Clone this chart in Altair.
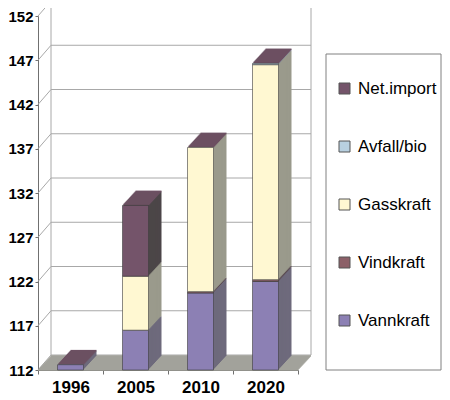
import altair as alt
import pandas as pd

years = ["1996", "2005", "2010", "2020"]
series = ["Vannkraft", "Vindkraft", "Gasskraft", "Avfall/bio", "Net.import"]
vannkraft = [112.6, 116.5, 120.7, 122.0]
vindkraft = [0.0, 0.0, 0.15, 0.2]
gasskraft = [0.0, 6.1, 16.3, 24.3]
avfall_bio = [0.0, 0.0, 0.0, 0.15]
net_import = [0.0, 8.0, 0.0, 0.0]
y_ticks = [112, 117, 122, 127, 132, 137, 142, 147, 152]

front_colors = ["#8c80b4", "#8c6068", "#fff8d2", "#b8d0e0", "#74546a"]
side_colors = ["#6e6a7c", "#5a4a50", "#9a9a8c", "#8898a8", "#4c4648"]
cap_color = "#6c5062"
FONT = "Liberation Sans"
W, H = 260, 354
DX, DY, STEPS = 13, 14, 14
Y_MIN = 112


def _stack():
    values = [vannkraft, vindkraft, gasskraft, avfall_bio, net_import]
    rows, totals = [], []
    for i, year in enumerate(years):
        cum = 0.0
        for j, name in enumerate(series):
            start = max(cum, Y_MIN)
            cum += values[j][i]
            end = max(cum, Y_MIN)
            if end > start:
                rows.append({"year": year, "series": name, "start": start, "end": end,
                             "side": side_colors[j]})
        totals.append({"year": year, "total": cum})
    return pd.DataFrame(rows), pd.DataFrame(totals)


bars, totals = _stack()
ticks = pd.DataFrame({"v": y_ticks})
one = pd.DataFrame({"a": [0]})

y_scale = alt.Scale(domain=[Y_MIN, 152], nice=False, zero=False)
x_scale = alt.Scale(type="band", domain=years, paddingInner=0, paddingOuter=0)
y_axis = alt.Axis(title=None, values=y_ticks, grid=False, labelFont=FONT, labelFontSize=15,
                  labelFontWeight="bold", labelColor="black", tickSize=3, labelPadding=2,
                  domainColor="#707070", tickColor="#707070")
x_axis = alt.Axis(title=None, labelAngle=0, labelFont=FONT, labelFontSize=17,
                  labelFontWeight="bold", labelColor="black", tickBand="extent", tickSize=4,
                  labelPadding=5, domainColor="#707070", tickColor="#707070")
X = alt.X("year:N", scale=x_scale, axis=x_axis, sort=years)

layers = []

# legend frame
layers.append(alt.Chart(one).mark_rect(fill="white", stroke="#808080", strokeWidth=1).encode(
    x=alt.value(288), x2=alt.value(403), y=alt.value(38), y2=alt.value(354)))

# back wall grid, left wall diagonals, wall edges
layers.append(alt.Chart(ticks).mark_rule(color="#a8a8a8", xOffset=DX, x2Offset=DX, yOffset=-15).encode(
    x=alt.value(0), x2=alt.value(W), y=alt.Y("v:Q", scale=y_scale, axis=y_axis)))
layers.append(alt.Chart(ticks).mark_rule(color="#a8a8a8", x2Offset=DX, y2Offset=-15).encode(
    x=alt.value(0), x2=alt.value(0),
    y=alt.Y("v:Q", scale=y_scale, axis=y_axis), y2="v:Q"))
for ex in [DX, W + DX]:
    layers.append(alt.Chart(one).mark_rule(color="#a8a8a8", yOffset=-15, y2Offset=-15).encode(
        x=alt.value(ex), y=alt.datum(152, scale=y_scale, axis=y_axis), y2=alt.datum(Y_MIN)))

# floor
for k in range(STEPS + 1):
    dx = DX * k / STEPS
    layers.append(alt.Chart(one).mark_rule(color="#9c9c94", strokeWidth=1.6,
                                           xOffset=dx, x2Offset=dx, yOffset=-DY * k / STEPS).encode(
        x=alt.value(0), x2=alt.value(W), y=alt.datum(Y_MIN, scale=y_scale, axis=y_axis)))

# bar sides, swept from back to front
for k in range(STEPS, 0, -1):
    dx, dy = DX * k / STEPS, DY * k / STEPS
    layers.append(alt.Chart(bars).mark_bar(size=26, xOffset=dx, x2Offset=dx,
                                           yOffset=-dy, y2Offset=-dy).encode(
        x=X, y=alt.Y("end:Q", scale=y_scale, axis=y_axis), y2="start:Q",
        fill=alt.Fill("side:N", scale=None)))

# top caps
for k in range(1, STEPS + 1):
    dx, dy = DX * k / STEPS, DY * k / STEPS
    layers.append(alt.Chart(totals).mark_tick(size=26, thickness=1.6, orient="horizontal",
                                              color=cap_color, opacity=1,
                                              xOffset=dx, yOffset=-dy).encode(
        x=X, y=alt.Y("total:Q", scale=y_scale, axis=y_axis)))

# front faces
legend_order = series[::-1]
legend_colors = front_colors[::-1]
layers.append(alt.Chart(bars).mark_bar(size=26, stroke="#3c3c3c", strokeWidth=0.6).encode(
    x=X, y=alt.Y("end:Q", scale=y_scale, axis=y_axis), y2="start:Q",
    color=alt.Color("series:N", scale=alt.Scale(domain=legend_order, range=legend_colors),
                    legend=alt.Legend(orient="none", legendX=298, legendY=64, title=None,
                                      symbolType="square", symbolSize=121, symbolOpacity=1,
                                      symbolStrokeColor="#555555", symbolStrokeWidth=1,
                                      labelFont=FONT, labelFontSize=17, labelColor="black",
                                      labelOffset=5, rowPadding=40, padding=0))))

chart = alt.layer(*layers).properties(
    width=W, height=H, autosize="none",
    padding={"left": 30, "top": 8, "right": 144, "bottom": 28}
).configure_view(stroke=None)

chart.save("out.html", embed_options={"renderer": "svg", "actions": False})
